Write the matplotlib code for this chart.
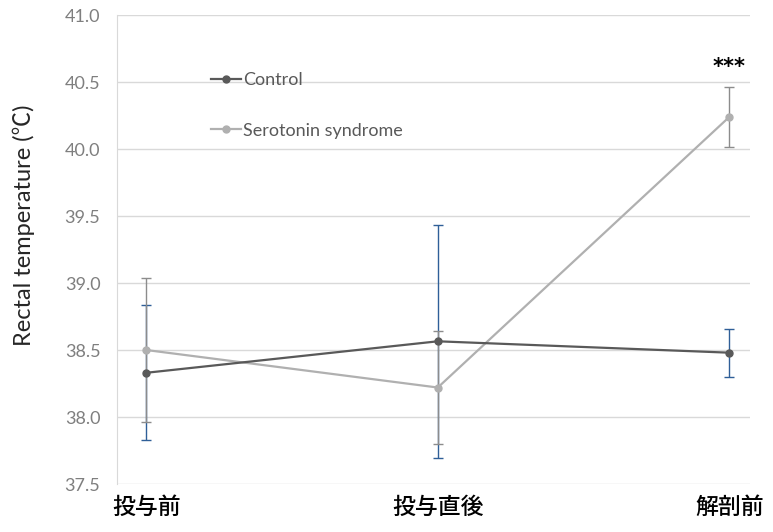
import matplotlib
matplotlib.use("Agg")
import matplotlib.pyplot as plt

plt.rcParams['font.family'] = ['Lato', 'Noto Sans CJK JP', 'DejaVu Sans']

# time points (before dosing, right after dosing, before dissection)
categories = ["投与前", "投与直後", "解剖前"]
control_mean = [38.33, 38.565, 38.48]
control_err = [0.505, 0.87, 0.18]
sero_mean = [38.50, 38.22, 40.24]
sero_err = [0.54, 0.42, 0.225]
yticks = [37.5, 38.0, 38.5, 39.0, 39.5, 40.0, 40.5, 41.0]

fig = plt.figure(figsize=(7.73, 5.32), dpi=100)
ax = fig.add_axes([0.1514, 0.0902, 0.8186, 0.8816])
x = list(range(len(categories)))

for y in yticks:
    ax.axhline(y, color="#d9d9d9", lw=1, zorder=0)

ax.errorbar(x, control_mean, yerr=control_err, fmt="none", ecolor="#2f5f98",
            elinewidth=1.0, capsize=3.5, capthick=1.0, zorder=2)
ax.errorbar(x, sero_mean, yerr=sero_err, fmt="none", ecolor="#8c8c8c",
            elinewidth=1.0, capsize=3.5, capthick=1.0, zorder=2)
ax.plot(x, control_mean, color="#595959", lw=1.6, marker="o", markersize=5,
        label="Control", zorder=4)
ax.plot(x, sero_mean, color="#b0b0b0", lw=1.6, marker="o", markersize=5,
        label="Serotonin syndrome", zorder=3)

ax.text(x[2], sero_mean[2] + sero_err[2] + 0.07, "***", ha="center", va="bottom",
        fontsize=15, color="#000000", family="DejaVu Sans", fontweight="bold")

ax.set_xlim(-0.1, 2.07)
ax.set_ylim(37.5, 41.0)
ax.set_yticks(yticks)
ax.set_yticklabels([f"{v:.1f}" for v in yticks], fontsize=13, color="#7f7f7f")
ax.set_xticks(x)
ax.set_xticklabels(categories, fontsize=16.5, color="#000000", fontweight="medium")
ax.tick_params(axis="both", length=0)
ax.tick_params(axis="y", pad=12)
ax.tick_params(axis="x", pad=9)
for s in ["top", "right", "bottom"]:
    ax.spines[s].set_visible(False)
ax.spines["left"].set_color("#d9d9d9")
ax.set_ylabel("Rectal temperature (℃)", fontsize=17, color="#262626")
ax.yaxis.set_label_coords(-0.13, 0.552)

ax.legend(loc="upper left", bbox_to_anchor=(0.148, 0.878), frameon=False,
          fontsize=13, labelspacing=1.9, handlelength=1.7, handletextpad=0.1,
          borderpad=0, borderaxespad=0, labelcolor="#595959")

fig.savefig("out.png", dpi=100)
